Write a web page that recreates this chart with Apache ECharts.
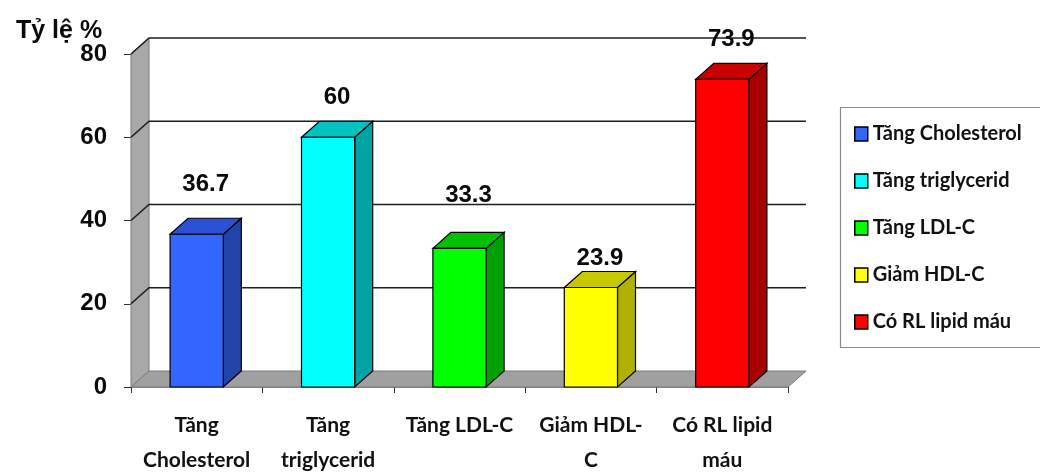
<!DOCTYPE html>
<html>
<head>
<meta charset="utf-8">
<script src="https://cdn.jsdelivr.net/npm/echarts@6/dist/echarts.min.js"></script>
<style>
  html, body { margin: 0; padding: 0; background: #fff; }
  #chart { width: 1040px; height: 474px; }
</style>
</head>
<body>
<div id="chart"></div>
<script>
// Lipid disorder rates (%)
const categories = ['Tăng Cholesterol', 'Tăng triglycerid', 'Tăng LDL-C', 'Giảm HDL-C', 'Có RL lipid máu'];
const axisLabels = ['Tăng\nCholesterol', 'Tăng\ntriglycerid', 'Tăng LDL-C', 'Giảm HDL-\nC', 'Có RL lipid\nmáu'];
const values = [36.7, 60, 33.3, 23.9, 73.9];
const yTicks = [0, 20, 40, 60, 80];

// face colours of each box: front, right side, top
const shades = [
  { front: '#3366ff', side: '#2243a8', top: '#2b50d6' },
  { front: '#00ffff', side: '#00a3a3', top: '#00c2c2' },
  { front: '#00ff00', side: '#00a000', top: '#00c000' },
  { front: '#ffff00', side: '#b0b000', top: '#c8c800' },
  { front: '#ff0000', side: '#a80000', top: '#c80000' }
];
// how far each value label sits above its box
const labelLift = [34, 24, 37, 13, 24];
// depth of the pseudo-3D projection
const DX = 18, DY = 16;
const BAR_RATIO = 0.405;

function renderFrame(params, api) {
  const cs = params.coordSys;
  const L = cs.x, R = cs.x + cs.width;
  const yTop = api.coord([0, yTicks[yTicks.length - 1]])[1];
  const y0 = api.coord([0, 0])[1];
  const children = [
    { // left side wall
      type: 'polygon',
      shape: { points: [[L, yTop], [L + DX, yTop - DY], [L + DX, y0 - DY], [L, y0]] },
      style: { fill: '#a8a8a8', stroke: '#7a7a7a', lineWidth: 1 }
    },
    { // floor
      type: 'polygon',
      shape: { points: [[L, y0], [R, y0], [R + DX, y0 - DY], [L + DX, y0 - DY]] },
      style: { fill: '#a0a0a0', stroke: '#7a7a7a', lineWidth: 1 }
    }
  ];
  yTicks.forEach(t => {
    if (t === 0) return;
    const y = api.coord([0, t])[1];
    children.push({
      type: 'polyline',
      shape: { points: [[L, y], [L + DX, y - DY], [R + DX, y - DY]] },
      style: { stroke: '#1e1e1e', lineWidth: 1.6, fill: null }
    });
  });
  return { type: 'group', children };
}

function renderBox(params, api) {
  const idx = api.value(0);
  const v = api.value(1);
  const base = api.coord([idx, 0]);
  const top = api.coord([idx, v]);
  const w = api.size([1, 0])[0] * BAR_RATIO;
  const l = base[0] - w / 2, r = base[0] + w / 2;
  const yb = base[1], yt = top[1];
  const s = shades[idx];
  const edge = { stroke: '#000', lineWidth: 1.2 };
  return {
    type: 'group',
    children: [
      {
        type: 'polygon',
        shape: { points: [[r, yb], [r, yt], [r + DX, yt - DY], [r + DX, yb - DY]] },
        style: Object.assign({ fill: s.side }, edge)
      },
      {
        type: 'polygon',
        shape: { points: [[l, yt], [r, yt], [r + DX, yt - DY], [l + DX, yt - DY]] },
        style: Object.assign({ fill: s.top }, edge)
      },
      {
        type: 'rect',
        shape: { x: l, y: yt, width: w, height: yb - yt },
        style: Object.assign({ fill: s.front }, edge)
      },
      {
        type: 'text',
        style: {
          text: String(v),
          x: base[0] + DX / 2,
          y: yt - DY - labelLift[idx],
          align: 'center',
          verticalAlign: 'middle',
          fontFamily: '"Liberation Sans", Arial, sans-serif',
          fontWeight: 'bold',
          fontSize: 24,
          fill: '#0a0a0a'
        }
      }
    ]
  };
}

const series = [{
  name: 'frame',
  type: 'custom',
  renderItem: renderFrame,
  data: [[0, 0]],
  silent: true,
  clip: false,
  z: 1
}];
categories.forEach((name, i) => {
  series.push({
    name: name,
    type: 'custom',
    renderItem: renderBox,
    data: [[i, values[i]]],
    encode: { x: 0, y: 1 },
    itemStyle: { color: shades[i].front },
    clip: false,
    z: 2
  });
});

const chart = echarts.init(document.getElementById('chart'), null, { renderer: 'canvas' });
chart.setOption({
  animation: false,
  backgroundColor: '#fff',
  title: {
    text: 'Tỷ lệ %',
    left: 11,
    top: 14,
    textStyle: {
      fontFamily: '"Liberation Sans", Arial, sans-serif',
      fontWeight: 'bold',
      fontSize: 25,
      color: '#0a0a0a'
    }
  },
  grid: { left: 131, right: 252, top: 54, bottom: 87, containLabel: false, outerBoundsMode: 'none' },
  xAxis: {
    type: 'category',
    data: axisLabels,
    axisLine: { show: true, lineStyle: { color: '#8a8a8a', width: 1 } },
    axisTick: { show: true, length: 6, lineStyle: { color: '#333' } },
    axisLabel: {
      interval: 0,
      margin: 21,
      fontFamily: 'Lato, "Open Sans", sans-serif',
      fontWeight: 'bold',
      fontSize: 21,
      lineHeight: 35,
      color: '#111'
    },
    splitLine: { show: false }
  },
  yAxis: {
    type: 'value',
    min: 0,
    max: 80,
    interval: 20,
    axisLine: { show: true, lineStyle: { color: '#7a7a7a' } },
    axisTick: { show: true, length: 7, lineStyle: { color: '#333' } },
    axisLabel: {
      margin: 24,
      fontFamily: '"Liberation Sans", Arial, sans-serif',
      fontWeight: 'bold',
      fontSize: 24,
      color: '#0a0a0a'
    },
    splitLine: { show: false }
  },
  legend: {
    data: categories.map((c, i) => ({ name: c, itemStyle: { color: shades[i].front } })),
    orient: 'vertical',
    left: 849,
    top: 117,
    icon: 'rect',
    itemWidth: 13,
    itemHeight: 14,
    itemGap: 23,
    itemStyle: { borderColor: '#000', borderWidth: 1.5 },
    textStyle: {
      fontFamily: 'Lato, "Open Sans", sans-serif',
      fontWeight: 'bold',
      fontSize: 20,
      lineHeight: 24,
      color: '#111'
    },
    selectedMode: false
  },
  graphic: [{
    type: 'rect',
    left: 838,
    top: 105,
    shape: { width: 240, height: 240 },
    style: { fill: null, stroke: '#8a8a8a', lineWidth: 1.2 },
    silent: true,
    z: 0
  }],
  series: series
});
</script>
</body>
</html>
